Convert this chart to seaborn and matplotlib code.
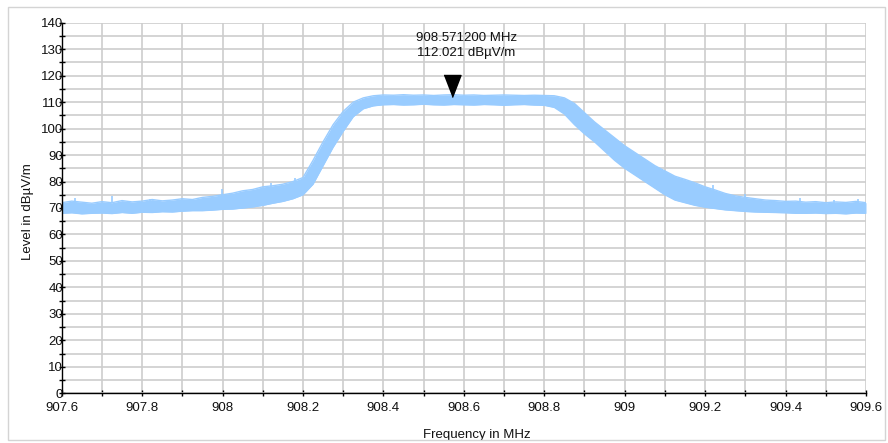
import numpy as np
import pandas as pd
import matplotlib
matplotlib.use("Agg")
import matplotlib.pyplot as plt
from matplotlib.patches import Rectangle
from matplotlib.ticker import MultipleLocator, FuncFormatter
import seaborn as sns

# Spectrum trace envelope (max / min hold) in dBµV/m, sampled every 25 kHz
freq_mhz = [
    907.600, 907.625, 907.650, 907.675, 907.700, 907.725, 907.750, 907.775,
    907.800, 907.825, 907.850, 907.875, 907.900, 907.925, 907.950, 907.975,
    908.000, 908.025, 908.050, 908.075, 908.100, 908.125, 908.150, 908.175,
    908.200, 908.225, 908.250, 908.275, 908.300, 908.325, 908.350, 908.375,
    908.400, 908.425, 908.450, 908.475, 908.500, 908.525, 908.550, 908.575,
    908.600, 908.625, 908.650, 908.675, 908.700, 908.725, 908.750, 908.775,
    908.800, 908.825, 908.850, 908.875, 908.900, 908.925, 908.950, 908.975,
    909.000, 909.025, 909.050, 909.075, 909.100, 909.125, 909.150, 909.175,
    909.200, 909.225, 909.250, 909.275, 909.300, 909.325, 909.350, 909.375,
    909.400, 909.425, 909.450, 909.475, 909.500, 909.525, 909.550, 909.575,
    909.600,
]
level_max = [
    72.0, 72.6, 72.2, 71.8, 72.4, 72.0, 72.8, 72.3,
    72.6, 73.2, 72.7, 73.0, 73.5, 73.2, 74.0, 74.4,
    75.0, 75.6, 76.5, 77.0, 78.0, 78.4, 79.0, 80.0,
    81.5, 88.0, 95.0, 101.5, 106.5, 110.0, 111.6, 112.4,
    112.7, 112.6, 112.8, 112.6, 112.7, 112.5, 112.7, 112.8,
    112.6, 112.7, 112.5, 112.6, 112.7, 112.6, 112.5, 112.6,
    112.5, 112.4, 111.6, 109.5, 106.0, 102.5, 99.5, 96.5,
    93.5, 91.0, 88.5, 86.0, 84.0, 82.0, 80.8, 79.5,
    78.0, 76.8, 75.5, 74.6, 74.0, 73.5, 73.0, 72.8,
    72.5, 72.6, 72.2, 72.4, 72.0, 72.3, 72.1, 72.5,
    72.0,
]
level_min = [
    68.0, 68.2, 67.8, 68.0, 68.1, 67.9, 68.3, 68.0,
    68.4, 68.3, 68.6, 68.5, 68.8, 69.0, 69.0, 69.2,
    69.5, 69.6, 70.0, 70.4, 71.0, 71.8, 72.5, 73.5,
    75.0, 79.0, 86.0, 93.0, 99.0, 104.5, 107.5, 108.6,
    109.0, 109.1, 108.9, 109.0, 109.2, 109.0, 108.9, 109.1,
    109.0, 108.9, 109.1, 109.0, 108.8, 109.0, 109.1, 108.9,
    108.8, 108.0, 105.5, 101.5, 98.0, 95.0, 91.5, 88.0,
    85.0, 82.5, 80.0, 77.5, 75.0, 73.0, 72.0, 71.0,
    70.3, 69.8, 69.3, 69.0, 68.7, 68.5, 68.4, 68.3,
    68.2, 68.0, 68.0, 68.1, 67.9, 68.0, 67.8, 68.1,
    68.0,
]

# Isolated noise peaks standing out above the envelope
spike_freq = [907.633, 907.724, 907.820, 907.999, 908.120, 908.180,
              909.220, 909.300, 909.437, 909.520, 909.580]
spike_top = [73.6, 74.5, 73.4, 77.0, 79.6, 81.2,
             78.5, 75.2, 73.8, 73.2, 73.3]
spike_base = [71.5, 72.0, 72.5, 74.5, 77.5, 79.0,
              76.0, 73.5, 72.3, 71.8, 72.0]

marker_freq = 908.5712
marker_level = 112.021

x_ticks = [907.6, 907.8, 908.0, 908.2, 908.4, 908.6, 908.8,
           909.0, 909.2, 909.4, 909.6]
y_ticks = list(range(0, 141, 10))

trace = pd.DataFrame({"freq": freq_mhz, "max": level_max, "min": level_min})

sns.set_theme(style="white")
plt.rcParams["font.family"] = ["Liberation Sans", "DejaVu Sans"]
plt.rcParams["font.size"] = 9.5

TRACE = "#99CCFF"
GRID = "#cdcdcd"
INK = "#111111"
FS = 9.5

fig = plt.figure(figsize=(8.88, 4.43), dpi=100)
ax = fig.add_axes([61.7 / 888, 1 - 393.3 / 443, (866 - 61.7) / 888, (393.3 - 22.7) / 443])

ax.fill_between(trace["freq"], trace["min"], trace["max"], color=TRACE, lw=0, zorder=3)
sns.lineplot(data=trace, x="freq", y="max", ax=ax, color=TRACE, lw=1.0, zorder=3)
sns.lineplot(data=trace, x="freq", y="min", ax=ax, color=TRACE, lw=1.0, zorder=3)
ax.vlines(spike_freq, spike_base, spike_top, color=TRACE, lw=1.2, zorder=3)

ax.set_xlim(x_ticks[0], x_ticks[-1])
ax.set_ylim(y_ticks[0], y_ticks[-1])
ax.set_xticks(x_ticks)
ax.set_yticks(y_ticks)
ax.xaxis.set_minor_locator(MultipleLocator(0.1))
ax.yaxis.set_minor_locator(MultipleLocator(5))
ax.xaxis.set_major_formatter(FuncFormatter(lambda v, p: f"{v:g}"))
ax.yaxis.set_major_formatter(FuncFormatter(lambda v, p: f"{v:g}"))

ax.grid(True, which="both", color=GRID, lw=1.2, zorder=0)
ax.set_axisbelow(True)
for side in ("top", "right"):
    ax.spines[side].set_visible(False)
for side in ("left", "bottom"):
    ax.spines[side].set_color("black")
    ax.spines[side].set_linewidth(1.0)
    ax.spines[side].set_zorder(4)

ax.tick_params(which="both", direction="inout", color="black", width=1.0,
               left=True, bottom=True, labelsize=FS, labelcolor=INK)
ax.tick_params(axis="x", which="both", length=5, pad=4)
ax.tick_params(axis="y", which="both", length=4, pad=-3)

ax.set_xlabel("")
ax.set_ylabel("Level in dBµV/m", fontsize=FS, color=INK)
ax.yaxis.set_label_coords(-0.0345, 0.49)
fig.text(477 / 888, 1 - 435 / 443, "Frequency in MHz", ha="center", va="center",
         fontsize=FS, color=INK)

# Marker: downward triangle whose tip sits on the marker level
tri = [(-8.5, 22), (8.5, 22), (0, 0)]
ax.plot([marker_freq], [marker_level], marker=tri, markersize=31.7,
        color="black", lw=0, zorder=5, clip_on=False)
ax.annotate(f"{marker_freq:.6f} MHz\n{marker_level:.3f} dBµV/m",
            xy=(marker_freq, marker_level), xytext=(10, 27),
            textcoords="offset points", ha="center", va="bottom",
            fontsize=FS, color=INK, linespacing=1.35, zorder=5)

# Light outer frame around the whole chart
fig.patches.append(Rectangle((8 / 888, 1 - 440 / 443), (885 - 8) / 888, (440 - 7) / 443,
                             transform=fig.transFigure, fill=False,
                             edgecolor="#d4d4d4", lw=1.0, zorder=10))

fig.savefig("out.png", dpi=100)
